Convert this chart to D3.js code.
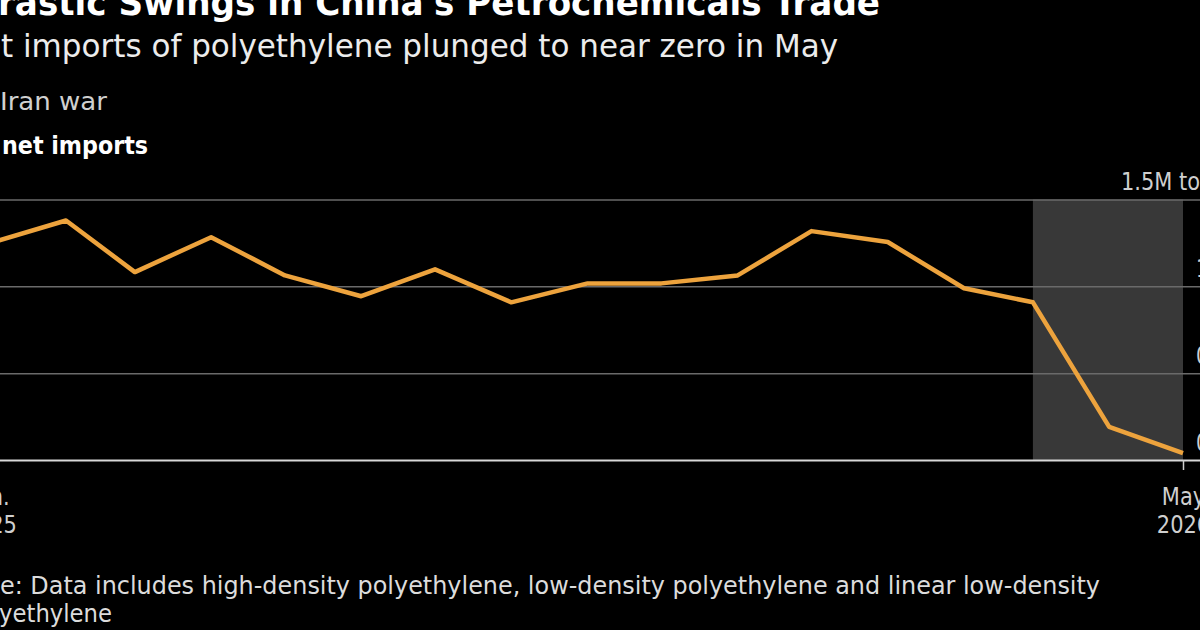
<!DOCTYPE html>
<html><head><meta charset="utf-8">
<script src="https://cdn.jsdelivr.net/npm/d3@7"></script>
<style>html,body{margin:0;padding:0;background:#000;overflow:hidden}</style>
</head><body>
<svg id="c" width="1200" height="630"></svg>
<script>
// ---- data ----
const months = ["2025-01","2025-02","2025-03","2025-04","2025-05","2025-06","2025-07","2025-08","2025-09","2025-10","2025-11","2025-12","2026-01","2026-02","2026-03","2026-04","2026-05"];
const netImports = [1.249,1.379,1.082,1.283,1.063,0.943,1.098,0.908,1.017,1.017,1.063,1.318,1.255,0.989,0.908,0.191,0.040]; // million tons
const yTicks = [0, 0.5, 1, 1.5];
const yTickLabels = ["0", "0.5", "1", "1.5M tons"];
const xTickMonths = ["2025-01", "2026-05"];
const xTickLabels = [["Jan.", "2025"], ["May", "2026"]];
const shadeMonths = ["2026-03", "2026-05"];
const titleText = "Drastic Swings in China's Petrochemicals Trade";
const subtitleText = "Net imports of polyethylene plunged to near zero in May";
const legendShade = "Iran war";
const legendLine = "Polyethylene net imports";
const noteLines = ["Note: Data includes high-density polyethylene, low-density polyethylene and linear low-density", "polyethylene"];

const FONT = "'DejaVu Sans Condensed','DejaVu Sans',sans-serif";
const parse = d3.timeParse("%Y-%m");
const svg = d3.select("#c");
svg.append("rect").attr("width",1200).attr("height",630).attr("fill","#000");

const x = d3.scaleTime().domain([parse(months[0]), parse(months[months.length-1])]).range([-10.3, 1183]);
const y = d3.scaleLinear().domain([0, 1.5]).range([460, 199.5]);

function squeeze(sel, k) {
  sel.each(function() {
    const w = this.getComputedTextLength();
    d3.select(this).attr("textLength", w * k).attr("lengthAdjust", "spacingAndGlyphs");
  });
}

// shaded period
svg.append("rect")
  .attr("x", x(parse(shadeMonths[0])))
  .attr("width", x(parse(shadeMonths[1])) - x(parse(shadeMonths[0])))
  .attr("y", y(1.5)).attr("height", y(0) - y(1.5))
  .attr("fill", "#383838");

// y axis (right) with gridlines
const yAxis = svg.append("g").attr("transform","translate(1200,0)")
  .call(d3.axisRight(y).tickValues(yTicks).tickSize(-1220).tickFormat((d,i)=>yTickLabels[i]));
yAxis.select(".domain").remove();
yAxis.selectAll(".tick line").attr("stroke", d => d === 0 ? "#d8d8d8" : "#6a6a6a").attr("stroke-width", d => d === 0 ? 2 : 1.5);
yAxis.selectAll(".tick text")
  .attr("font-family", FONT).attr("font-size", 24).attr("fill", "#cfcfcf")
  .attr("text-anchor","start").attr("dy", null)
  .attr("y", -10)
  .attr("x", d => d === 1.5 ? -79 : -4);
squeeze(yAxis.selectAll(".tick text").filter(d => d !== 1.5), 0.9);
// top label: "1.5M to" visible part spans ~79px
yAxis.selectAll(".tick text").filter(d => d === 1.5).each(function(d, i) {
  const t = d3.select(this);
  const full = t.text();
  t.text("1.5M to");
  const wv = this.getComputedTextLength();
  t.text(full);
  const wf = this.getComputedTextLength();
  t.attr("textLength", wf * 79 / wv).attr("lengthAdjust", "spacingAndGlyphs");
});

// x axis
const xAxis = svg.append("g").attr("transform", `translate(0,${y(0)})`)
  .call(d3.axisBottom(x).tickValues(xTickMonths.map(parse)).tickSize(10).tickFormat(""));
xAxis.select(".domain").remove();
xAxis.selectAll(".tick line").attr("stroke", "#cfcfcf").attr("stroke-width", 1.5);
xAxis.selectAll(".tick").each(function(d, i) {
  const g = d3.select(this);
  xTickLabels[i].forEach((s, j) => {
    g.append("text").attr("font-family", FONT).attr("font-size", 24)
      .attr("fill", "#cfcfcf").attr("text-anchor", "middle")
      .attr("x", 0).attr("y", 45 + j * 28).text(s);
  });
});
squeeze(xAxis.selectAll(".tick text"), 0.97);

// line
const data = months.map((m, i) => ({date: parse(m), v: netImports[i]}));
svg.append("path").datum(data)
  .attr("fill", "none").attr("stroke", "#eda33d").attr("stroke-width", 4.5)
  .attr("stroke-linejoin", "round")
  .attr("d", d3.line().x(d => x(d.date)).y(d => y(d.v)));

// text helper: fit so that the visible tail of the string spans given width ending at rightX
function fitText(full, visible, rightX, visW, baseline, size, weight, fill) {
  const t = svg.append("text").attr("font-family", FONT).attr("font-size", size)
    .attr("font-weight", weight).attr("fill", fill).text(visible);
  const wv = t.node().getComputedTextLength();
  t.text(full);
  const wf = t.node().getComputedTextLength();
  const len = wf * visW / wv;
  t.attr("x", rightX - len).attr("y", baseline)
   .attr("textLength", len).attr("lengthAdjust", "spacingAndGlyphs");
  return t;
}
fitText(titleText, "rastic Swings in China's Petrochemicals Trade", 880, 882, 15, 36, 700, "#ffffff");
fitText(subtitleText, "t imports of polyethylene plunged to near zero in May", 838, 837, 57, 32, 400, "#ececec");
fitText(legendShade, "Iran war", 107, 107, 110, 25, 400, "#d0d0d0");
fitText(legendLine, "net imports", 148, 146, 154, 25, 700, "#ffffff");
fitText(noteLines[0], "e: Data includes high-density polyethylene, low-density polyethylene and linear low-density", 1100, 1100, 594, 24, 400, "#dcdcdc");
fitText(noteLines[1], "yethylene", 112, 113, 622, 24, 400, "#dcdcdc");
</script>
</body></html>
